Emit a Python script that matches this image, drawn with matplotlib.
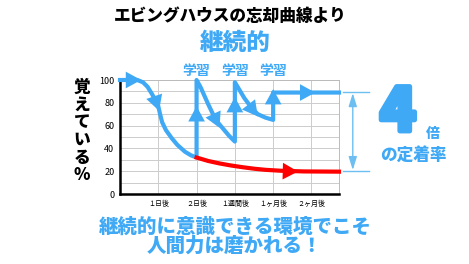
import matplotlib
matplotlib.use('Agg')
import matplotlib.pyplot as plt
import matplotlib.patheffects as pe

plt.rcParams['font.family'] = ['Noto Sans CJK JP', 'DejaVu Sans']

BLUE = '#3fa9f5'
LIGHT = '#6dbff2'
RED = '#ff0000'

# review curve (with study sessions) and plain forgetting curve
blue_x = [0, 0.45, 0.6, 0.72, 0.83, 0.93, 1.0, 1.04, 1.1, 1.2, 1.35, 1.5, 1.7, 1.85, 2.0,
          2.0, 2.1, 2.3, 2.5, 2.7, 2.85, 3.0,
          3.0, 3.09, 3.25, 3.45, 3.6, 3.8, 4.0,
          4.0, 5.72]
blue_y = [100, 100, 98, 94, 88, 82, 77, 71, 63, 56, 49, 43, 37, 34, 32,
          100, 94, 79, 65, 57, 51, 46,
          98, 93, 84, 75, 70, 67, 65,
          89, 89]
red_x = [2.0, 2.3, 2.6, 2.9, 3.2, 3.5, 3.8, 4.2, 4.8, 5.72]
red_y = [32, 29, 26.8, 25, 23.5, 22.2, 21.2, 20.4, 19.8, 19.6]

xtick_pos = [1, 2, 3, 4, 5]
xtick_labels = ['１日後', '２日後', '１週間後', '１ヶ月後', '２ヶ月後']
ytick_pos = [0, 20, 40, 60, 80, 100]
study_x = [2, 3, 4]

fig = plt.figure(figsize=(4.69, 2.64), dpi=100)
ax = fig.add_axes([120/469, 1-194/264, 219/469, 114/264])

ax.plot(blue_x, blue_y, color=BLUE, lw=3, solid_joinstyle='round', clip_on=False, zorder=3)
ax.plot(red_x, red_y, color=RED, lw=3, clip_on=False, zorder=3)


def head(x0, y0, x1, y1, c):
    ax.annotate('', xy=(x1, y1), xytext=(x0, y0),
                arrowprops=dict(arrowstyle='-|>,head_width=0.6,head_length=1.1',
                                color=c, lw=0, shrinkA=0, shrinkB=0),
                annotation_clip=False, zorder=4)


head(0.15, 100, 0.55, 100, BLUE)
head(0.9, 85, 1.02, 73, BLUE)
head(2, 58, 2, 77, BLUE)
head(2.35, 76, 2.6, 58, BLUE)
head(3, 66, 3, 85, BLUE)
head(3.3, 81, 3.6, 68, BLUE)
head(4, 74, 4, 92, BLUE)
head(4.6, 89, 5.1, 89, BLUE)
head(4.1, 20.2, 4.65, 19.7, RED)

ax.set_xlim(0, 5.72)
ax.set_ylim(0, 100)
ax.set_yticks(ytick_pos)
ax.set_yticks(range(0, 101, 10), minor=True)
ax.set_xticks(xtick_pos)
ax.set_xticklabels(xtick_labels, fontsize=5)
ax.tick_params(axis='y', labelsize=6.5, length=0, pad=4)
ax.tick_params(axis='x', length=0, pad=4)
ax.tick_params(which='minor', length=0)
ax.grid(True, which='both', color='#cccccc', lw=0.7)
ax.set_axisbelow(True)
for s in ['left', 'bottom']:
    ax.spines[s].set_linewidth(1.8)
    ax.spines[s].set_color('black')
for s in ['top', 'right']:
    ax.spines[s].set_linewidth(0.7)
    ax.spines[s].set_color('#bbbbbb')

# retention gap marker on the right
for yy in [89.7, 20]:
    ax.plot([5.82, 6.5], [yy, yy], color=LIGHT, lw=1, clip_on=False)
ax.annotate('', xy=(6.08, 21), xytext=(6.08, 88.5),
            arrowprops=dict(arrowstyle='<|-|>,head_width=0.25,head_length=0.8',
                            color=LIGHT, lw=1, shrinkA=0, shrinkB=0),
            annotation_clip=False)

for sx in study_x:
    ax.text(sx, 102, '学習', color=BLUE, fontsize=10, fontweight='bold',
            ha='center', va='bottom')

fig.text(230/469, 1-16/264, 'エビングハウスの忘却曲線より', fontsize=12,
         fontweight='heavy', ha='center', va='center')
fig.text(235/469, 1-43/264, '継続的', fontsize=17, fontweight='heavy',
         color=BLUE, ha='center', va='center')
fig.text(82/469, 1-131/264, '覚\nえ\nて\nい\nる\n%', fontsize=12,
         fontweight='heavy', ha='center', va='center', linespacing=0.98)
fig.text(398/469, 1-113/264, '4', fontsize=43, fontweight='black',
         color=BLUE, ha='center', va='center',
         path_effects=[pe.withStroke(linewidth=3.5, foreground=BLUE)])
fig.text(433/469, 1-134/264, '倍', fontsize=10, fontweight='heavy',
         color=BLUE, ha='center', va='center')
fig.text(413/469, 1-155/264, 'の定着率', fontsize=12, fontweight='heavy',
         color=BLUE, ha='center', va='center')
fig.text(235/469, 1-227/264, '継続的に意識できる環境でこそ', fontsize=14,
         fontweight='heavy', color=BLUE, ha='center', va='center')
fig.text(234/469, 1-246/264, '人間力は磨かれる！', fontsize=14,
         fontweight='heavy', color=BLUE, ha='center', va='center')

fig.savefig('out.png', dpi=100)
